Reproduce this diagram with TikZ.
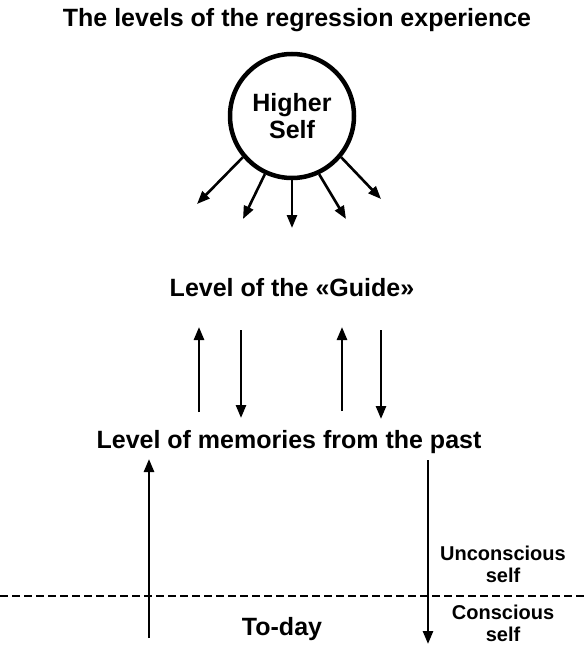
\documentclass[tikz,border=0pt]{standalone}
\usepackage{fontspec}
\setmainfont{Liberation Sans}
\usetikzlibrary{arrows.meta}
\tikzset{
  lvl/.style={font=\fontsize{25}{27}\selectfont\bfseries, align=center},
  side/.style={font=\fontsize{20}{22}\selectfont\bfseries, align=center},
  flow/.style={line width=2.6pt, -{Triangle[length=13pt,width=10pt]}},
}
\begin{document}
\begin{tikzpicture}[x=1pt,y=-1pt]
    \useasboundingbox (0,0) rectangle (587,669);
    % titles and levels
    \node[lvl] (title) at (297,20) {The levels of the regression experience};
    \node[lvl, draw, circle, line width=4.5pt, minimum size=124pt, inner sep=0pt] (higher) at (292,116) {Higher\\Self};
    \node[lvl] (guide) at (292,288) {Level of the «Guide»};
    \node[lvl] (memories) at (289,442) {Level of memories from the past};
    \node[lvl] (today) at (282,629) {To-day};
    \node[side] (unconscious) at (503,564) {Unconscious\\self};
    \node[side] (conscious) at (503,623) {Conscious\\self};
    % rays of the higher self
    \foreach \a/\x/\y [count=\i] in {220/197/204, 245/243/219, 270/292/228, 295/346/219, 320/381/199} {
        \coordinate (ray\i) at (\x,\y);
        \draw[flow] (higher.\a) -- (ray\i);
    }
    % between guide and memories
    \foreach \x/\s/\e [count=\i] in {199/412/327, 241/330/418, 342/411/327, 381/330/419} {
        \coordinate (a\i) at (\x,\s);
        \coordinate (b\i) at (\x,\e);
        \draw[flow] (a\i) -- (b\i);
    }
    % from to-day to the past and back
    \coordinate (up0) at (149,638);
    \coordinate (up1) at (149,459);
    \coordinate (down0) at (428,460);
    \coordinate (down1) at (428,644);
    \draw[flow] (up0) -- (up1);
    \draw[flow] (down0) -- (down1);
    % border between conscious and unconscious
    \coordinate (left) at (0,596);
    \coordinate (right) at (587,596);
    \draw[line width=2pt, dash pattern=on 8pt off 4pt] (left) -- (right);
\end{tikzpicture}
\end{document}
